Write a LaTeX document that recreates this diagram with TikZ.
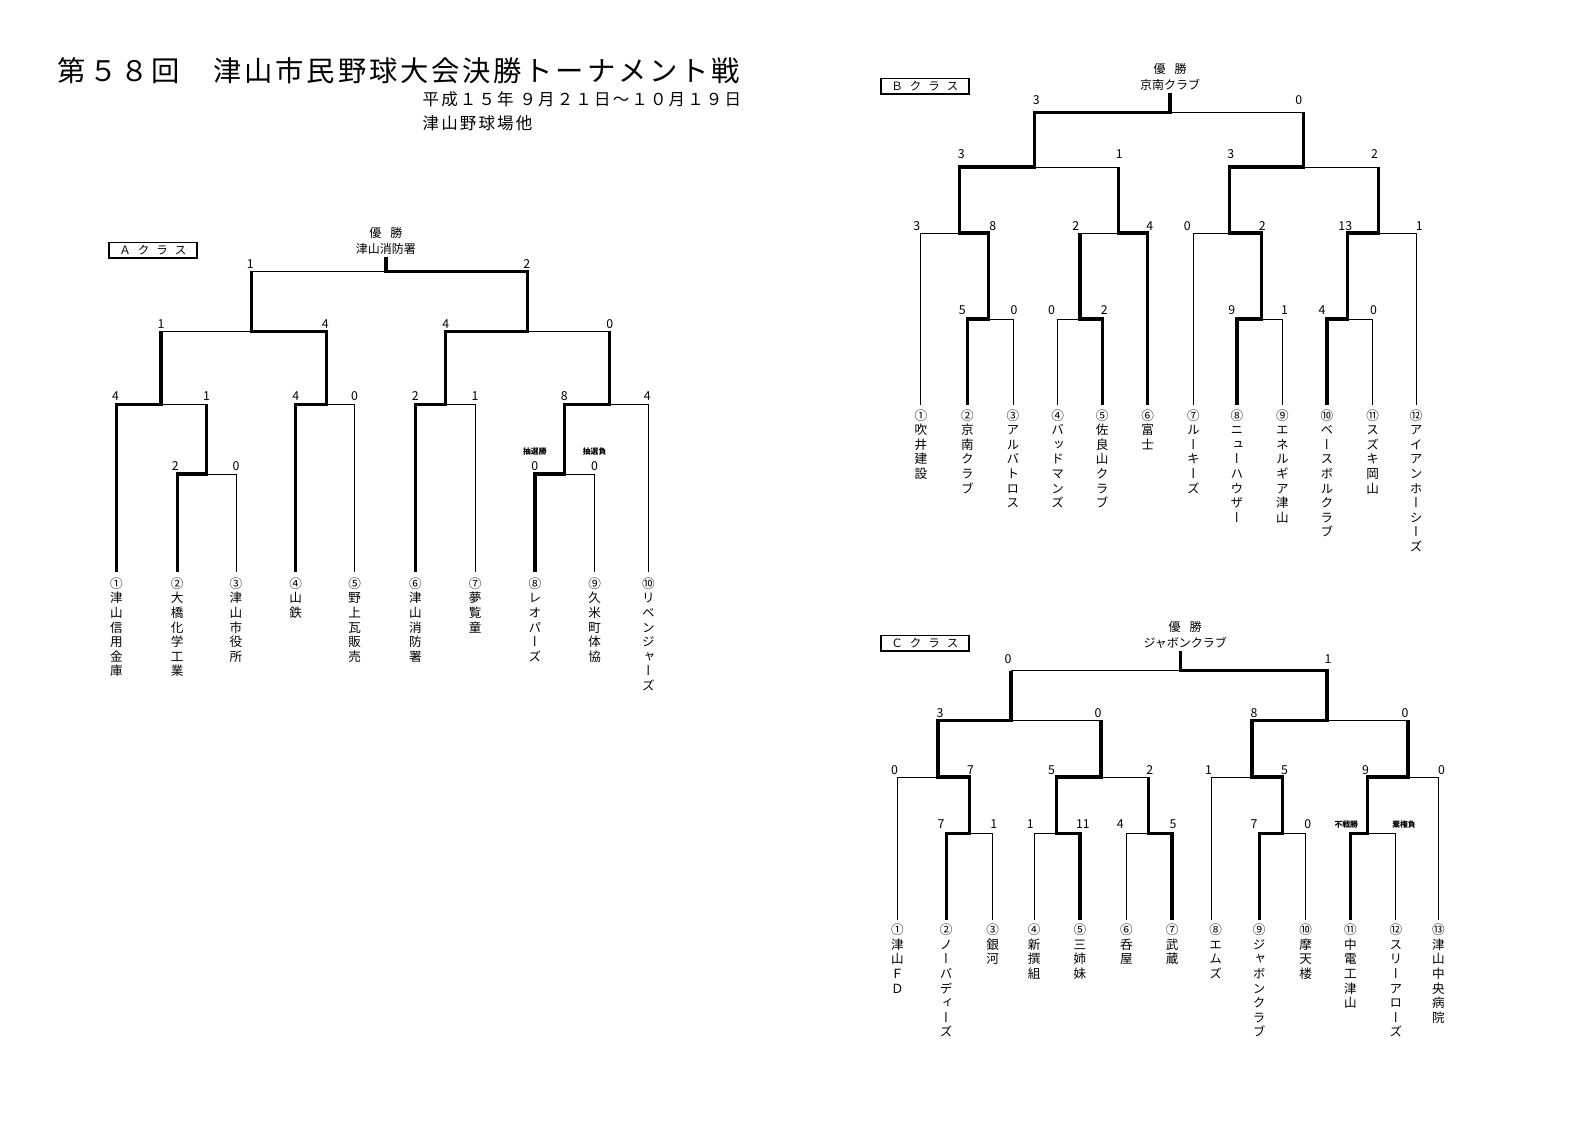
\documentclass[tikz,border=0pt]{standalone}
\usepackage{fontspec}
\setmainfont{Noto Sans CJK JP}
\newfontfamily\jpv[RawFeature=+vert]{Noto Sans CJK JP}
\newfontfamily\jpsp[LetterSpace=10]{Noto Sans CJK JP}
\newfontfamily\jpspb[LetterSpace=13]{Noto Sans CJK JP}
\makeatletter
\newcommand\vtxt[1]{\vtop{\hsize=17pt\parindent=0pt\jpv\fontsize{12.6}{14.6}\selectfont\lineskiplimit=-20pt\lineskip=0pt\@tfor\ch:=#1\do{\hbox to\hsize{\hss\ch\hss}}}}
\makeatother
\newcounter{nd}
\tikzset{
  ln/.style={line width=0.9pt},
  win/.style={line width=3.3pt, line join=miter, line cap=butt},
  score/.style={font=\fontsize{12.3}{13}\selectfont, inner sep=0pt},
  tiny/.style={font=\fontsize{7.8}{8}\selectfont\bfseries, inner sep=0pt},
  classbox/.style={draw, line width=1.4pt, minimum width=88pt, minimum height=15.5pt, inner sep=0pt, font=\fontsize{11.5}{12}\selectfont},
  champ/.style={font=\fontsize{12}{16.5}\selectfont, inner sep=0pt, align=center}
}
\newcommand\fork[5]{\draw[ln] (#1,#4)--(#1,#3)--(#2,#3)--(#2,#5);}
\newcommand\myscore[3]{\stepcounter{nd}\node[score] (sc\arabic{nd}) at (#1,#2) {#3};}
\newcommand\mylab[3]{\stepcounter{nd}\node[tiny] (lb\arabic{nd}) at (#1,#2) {#3};}
\newcommand\myname[3]{\stepcounter{nd}\node[anchor=north, inner sep=0pt] (nm\arabic{nd}) at (#1,#2) {\vtxt{#3}};}
\begin{document}
\begin{tikzpicture}[x=1.013pt,y=-1.013pt]
\useasboundingbox (0pt,0pt) rectangle (1587pt,-1123pt);
\fill[white] (0pt,0pt) rectangle (1587pt,-1123pt);
% ---------- title ----------
\node[anchor=west, inner sep=0pt] (title) at (57,70) {\jpsp\fontsize{28.3}{30}\selectfont 第５８回　津山市民野球大会決勝トーナメント戦};
\node[anchor=west, inner sep=0pt] (date) at (417,98) {\jpspb\fontsize{16.5}{18}\selectfont 平成１５年 ９月２１日～１０月１９日};
\node[anchor=west, inner sep=0pt] (place) at (417,122) {\jpspb\fontsize{16.5}{18}\selectfont 津山野球場他};

% ================= A class =================
\node[classbox] (boxA) at (151,247) {Ａ\hspace{7pt}ク\hspace{7pt}ラ\hspace{7pt}ス};
\node[champ] (chA) at (381,238) {優\hspace{9pt}勝\\津山消防署};
\fork{248}{521}{268}{327}{327}
\fork{159}{322}{327}{399}{399}
\fork{440}{602}{327}{399}{399}
\fork{115}{204}{399}{565}{468}
\fork{292}{350}{399}{565}{565}
\fork{410}{469}{399}{565}{565}
\fork{557}{640}{399}{468}{565}
\fork{175}{233}{468}{565}{565}
\fork{528}{587}{468}{565}{565}
\draw[win] (381,254)--(381,268)--(521,268)--(521,327)--(440,327)--(440,399)--(410,399)--(410,565);
\draw[win] (248,268)--(248,327)--(322,327)--(322,399)--(292,399)--(292,565);
\draw[win] (159,327)--(159,399)--(115,399)--(115,565);
\draw[win] (204,399)--(204,468)--(175,468)--(175,565);
\draw[win] (602,327)--(602,399)--(557,399)--(557,468)--(528,468)--(528,565);
\myscore{247}{261}{1}\myscore{520}{261}{2}
\myscore{159}{320}{1}\myscore{321}{320}{4}\myscore{440}{320}{4}\myscore{602}{320}{0}
\myscore{114}{391}{4}\myscore{204}{391}{1}\myscore{292}{391}{4}\myscore{350}{391}{0}
\myscore{410}{391}{2}\myscore{469}{391}{1}\myscore{557}{391}{8}\myscore{639}{391}{4}
\myscore{173}{460}{2}\myscore{233}{460}{0}\myscore{528}{460}{0}\myscore{587}{460}{0}
\mylab{528}{446}{抽選勝}\mylab{587}{446}{抽選負}
\myname{115}{570}{①津山信用金庫}
\myname{175}{570}{②大橋化学工業}
\myname{233}{570}{③津山市役所}
\myname{292}{570}{④山鉄}
\myname{350}{570}{⑤野上瓦販売}
\myname{410}{570}{⑥津山消防署}
\myname{469}{570}{⑦夢覧童}
\myname{528}{570}{⑧レオパーズ}
\myname{587}{570}{⑨久米町体協}
\myname{640}{570}{⑩リベンジャーズ}

% ================= B class =================
\node[classbox] (boxB) at (913,85) {Ｂ\hspace{7pt}ク\hspace{7pt}ラ\hspace{7pt}ス};
\node[champ] (chB) at (1155,76) {優\hspace{9pt}勝\\京南クラブ};
\fork{1021}{1287}{111}{165}{165}
\fork{947}{1104}{165}{230}{230}
\fork{1214}{1361}{165}{230}{230}
\fork{909}{976}{230}{400}{315}
\fork{1066}{1133}{230}{315}{400}
\fork{1178}{1245}{230}{400}{315}
\fork{1330}{1398}{230}{315}{400}
\fork{955}{1000}{315}{400}{400}
\fork{1044}{1088}{315}{400}{400}
\fork{1221}{1266}{315}{400}{400}
\fork{1310}{1355}{315}{400}{400}
\draw[win] (1155,92)--(1155,111)--(1021,111)--(1021,165)--(947,165)--(947,230)--(976,230)--(976,315)--(955,315)--(955,400);
\draw[win] (1287,111)--(1287,165)--(1214,165)--(1214,230)--(1245,230)--(1245,315)--(1221,315)--(1221,400);
\draw[win] (1104,165)--(1104,230)--(1133,230)--(1133,400);
\draw[win] (1066,230)--(1066,315)--(1088,315)--(1088,400);
\draw[win] (1361,165)--(1361,230)--(1330,230)--(1330,315)--(1310,315)--(1310,400);
\myscore{1023}{99}{3}\myscore{1282}{99}{0}
\myscore{949}{152}{3}\myscore{1105}{152}{1}\myscore{1215}{152}{3}\myscore{1357}{152}{2}
\myscore{905}{223}{3}\myscore{980}{223}{8}\myscore{1062}{223}{2}\myscore{1135}{223}{4}
\myscore{1172}{223}{0}\myscore{1246}{223}{2}\myscore{1328}{223}{13}\myscore{1401}{223}{1}
\myscore{950}{306}{5}\myscore{1001}{306}{0}\myscore{1038}{306}{0}\myscore{1090}{306}{2}
\myscore{1216}{306}{9}\myscore{1268}{306}{1}\myscore{1305}{306}{4}\myscore{1356}{306}{0}
\myname{909}{404}{①吹井建設}
\myname{955}{404}{②京南クラブ}
\myname{1000}{404}{③アルバトロス}
\myname{1044}{404}{④バッドマンズ}
\myname{1088}{404}{⑤佐良山クラブ}
\myname{1133}{404}{⑥富士}
\myname{1178}{404}{⑦ルーキーズ}
\myname{1221}{404}{⑧ニューハウザー}
\myname{1266}{404}{⑨エネルギア津山}
\myname{1310}{404}{⑩ベースボルクラブ}
\myname{1355}{404}{⑪スズキ岡山}
\myname{1398}{404}{⑫アイアンホーシーズ}

% ================= C class =================
\node[classbox] (boxC) at (913,635) {Ｃ\hspace{7pt}ク\hspace{7pt}ラ\hspace{7pt}ス};
\node[champ] (chC) at (1170,627) {優\hspace{9pt}勝\\ジャボンクラブ};
\fork{998}{1310}{662}{711}{711}
\fork{926}{1087}{711}{767}{767}
\fork{1236}{1390}{711}{767}{767}
\fork{886}{957}{767}{908}{823}
\fork{1043}{1134}{767}{823}{823}
\fork{1196}{1266}{767}{908}{823}
\fork{1350}{1420}{767}{823}{908}
\fork{934}{980}{823}{908}{908}
\fork{1021}{1066}{823}{908}{908}
\fork{1112}{1157}{823}{908}{908}
\fork{1243}{1289}{823}{908}{908}
\fork{1333}{1378}{823}{908}{908}
\draw[win] (1165,643)--(1165,662)--(1310,662)--(1310,711)--(1236,711)--(1236,767)--(1266,767)--(1266,823)--(1243,823)--(1243,908);
\draw[win] (998,662)--(998,711)--(926,711)--(926,767)--(957,767)--(957,823)--(934,823)--(934,908);
\draw[win] (1087,711)--(1087,767)--(1043,767)--(1043,823)--(1066,823)--(1066,908);
\draw[win] (1134,767)--(1134,823)--(1157,823)--(1157,908);
\draw[win] (1390,711)--(1390,767)--(1350,767)--(1350,823)--(1333,823)--(1333,908);
\myscore{995}{651}{0}\myscore{1311}{651}{1}
\myscore{928}{704}{3}\myscore{1084}{704}{0}\myscore{1238}{704}{8}\myscore{1387}{704}{0}
\myscore{883}{760}{0}\myscore{958}{760}{7}\myscore{1038}{760}{5}\myscore{1135}{760}{2}
\myscore{1193}{760}{1}\myscore{1268}{760}{5}\myscore{1348}{760}{9}\myscore{1423}{760}{0}
\myscore{929}{814}{7}\myscore{981}{814}{1}\myscore{1017}{814}{1}\myscore{1069}{814}{11}
\myscore{1106}{814}{4}\myscore{1158}{814}{5}\myscore{1238}{814}{7}\myscore{1291}{814}{0}
\mylab{1329}{814}{不戦勝}\mylab{1386}{814}{棄権負}
\myname{886}{912}{①津山ＦＤ}
\myname{934}{912}{②ノーバディーズ}
\myname{980}{912}{③銀河}
\myname{1021}{912}{④新撰組}
\myname{1066}{912}{⑤三姉妹}
\myname{1112}{912}{⑥呑屋}
\myname{1157}{912}{⑦武蔵}
\myname{1200}{912}{⑧エムズ}
\myname{1243}{912}{⑨ジャボンクラブ}
\myname{1289}{912}{⑩摩天楼}
\myname{1333}{912}{⑪中電工津山}
\myname{1378}{912}{⑫スリーアローズ}
\myname{1420}{912}{⑬津山中央病院}
\end{tikzpicture}
\end{document}
